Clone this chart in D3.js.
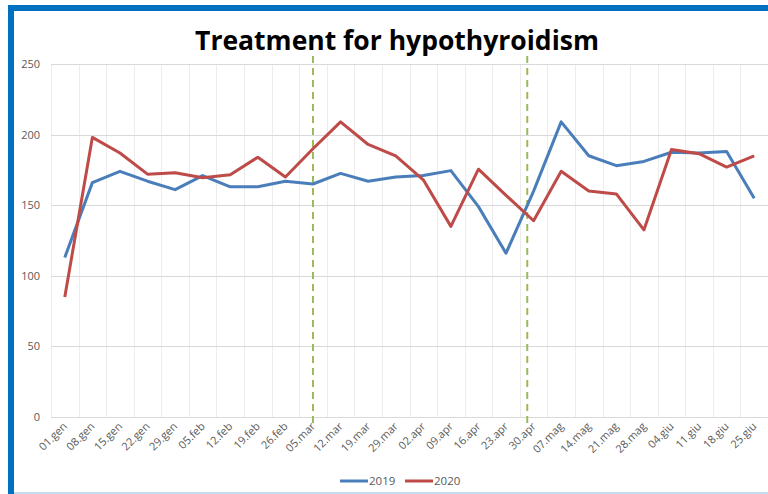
<!DOCTYPE html>
<meta charset='utf-8'>
<style>
body { margin: 0; background: #fff; }
text { font-family: 'Open Sans', 'Liberation Sans', sans-serif; }
.tick text { fill: #595959; font-size: 11px; }
.grid-y line { stroke: #d9d9d9; shape-rendering: crispEdges; }
.grid-x line { stroke: #ececec; shape-rendering: crispEdges; }
</style>
<svg width='768' height='494'></svg>
<script src='https://cdnjs.cloudflare.com/ajax/libs/d3/7.8.5/d3.min.js'></script>
<script>

// weeks on the x axis
var weeks = ['01.gen','08.gen','15.gen','22.gen','29.gen','05.feb','12.feb','19.feb','26.feb',
    '05.mar','12.mar','19.mar','29.mar','02.apr','09.apr','16.apr','23.apr','30.apr',
    '07.mag','14.mag','21.mag','28.mag','04.giu','11.giu','18.giu','25.giu'];

var values2019 = [113, 166, 174, 167, 161, 171, 163, 163, 167, 165, 172.5, 167, 170,
    171, 174.5, 149, 116, 160, 209, 185, 178, 181, 187.5, 187, 188, 155];

var values2020 = [85, 198, 187, 172, 173, 169.5, 171.5, 184, 170, 190, 209, 193, 185,
    168, 135, 175.5, 157, 139, 174, 160, 158, 132.5, 189.5, 186.5, 177, 185];

var yTicks = [0, 50, 100, 150, 200, 250];

// dashed markers: week and where inside its band the line sits
var markerWeeks = ['05.mar', '30.apr'];
var markerOffsets = [0.5, 0.27];

var seriesNames = ['2019', '2020'];
var seriesColors = ['#4a7ebb', '#be4b48'];

var svg = d3.select('svg'),
    plotLeft = 51, plotRight = 768, plotTop = 64, plotBottom = 417;

// frame (right and bottom sides run past the picture)
svg.append('rect')
    .attr('x', 11).attr('y', 8)
    .attr('width', 800).attr('height', 520)
    .attr('fill', 'none')
    .attr('stroke', '#0070c0')
    .attr('stroke-width', 6);
svg.append('line')
    .attr('x1', 14).attr('x2', 768)
    .attr('y1', 493).attr('y2', 493)
    .attr('stroke', '#c5dcef')
    .attr('stroke-width', 2);

var x = d3.scaleBand().domain(weeks).range([plotLeft, plotRight]).paddingInner(0).paddingOuter(0);
var y = d3.scaleLinear().domain([0, 250]).range([plotBottom, plotTop]);
var cx = function(d) { return x(d) + x.bandwidth() / 2; };

// vertical grid at band edges
svg.append('g')
    .attr('class', 'grid-x')
    .selectAll('line')
    .data(weeks.concat(['end']))
    .join('line')
    .attr('x1', function(d, i) { return Math.round(plotLeft + i * x.step()) + 0.5; })
    .attr('x2', function(d, i) { return Math.round(plotLeft + i * x.step()) + 0.5; })
    .attr('y1', plotTop).attr('y2', plotBottom);

// horizontal grid
svg.append('g')
    .attr('class', 'grid-y')
    .selectAll('line')
    .data(yTicks)
    .join('line')
    .attr('x1', plotLeft).attr('x2', plotRight)
    .attr('y1', function(d) { return Math.round(y(d)) + 0.5; })
    .attr('y2', function(d) { return Math.round(y(d)) + 0.5; });

// y axis labels
var yAxis = svg.append('g')
    .attr('transform', 'translate(' + plotLeft + ',0)')
    .call(d3.axisLeft(y).tickValues(yTicks).tickSize(0).tickPadding(11));
yAxis.select('.domain').remove();

// x axis
var xAxis = svg.append('g')
    .attr('transform', 'translate(0,' + plotBottom + ')')
    .call(d3.axisBottom(x).tickSize(0).tickPadding(0));
xAxis.select('.domain').remove();
xAxis.selectAll('text')
    .attr('text-anchor', 'end')
    .attr('y', 0).attr('dy', 0)
    .attr('transform', 'translate(3,10) rotate(-45)');

// dashed markers
svg.append('g')
    .selectAll('line')
    .data(markerWeeks)
    .join('line')
    .attr('x1', function(d, i) { return x(d) + x.bandwidth() * markerOffsets[i]; })
    .attr('x2', function(d, i) { return x(d) + x.bandwidth() * markerOffsets[i]; })
    .attr('y1', 56).attr('y2', 428)
    .attr('stroke', '#9bbb59')
    .attr('stroke-width', 2)
    .attr('stroke-dasharray', '7,5');

// lines
var line = d3.line()
    .x(function(d, i) { return cx(weeks[i]); })
    .y(function(d) { return y(d); });

[values2019, values2020].forEach(function(vals, k) {
    svg.append('path')
        .datum(vals)
        .attr('fill', 'none')
        .attr('stroke', seriesColors[k])
        .attr('stroke-width', 3)
        .attr('stroke-linejoin', 'round')
        .attr('d', line);
});

// title
svg.append('text')
    .attr('x', 397).attr('y', 50)
    .attr('text-anchor', 'middle')
    .style('font-size', '26.5px')
    .style('font-weight', 'bold')
    .attr('fill', '#000')
    .text('Treatment for hypothyroidism');

// legend
var legend = svg.append('g')
    .selectAll('g')
    .data(seriesNames)
    .join('g')
    .attr('transform', function(d, i) { return 'translate(' + (340 + i * 65) + ',481)'; });
legend.append('line')
    .attr('x1', 0).attr('x2', 28)
    .attr('stroke', function(d, i) { return seriesColors[i]; })
    .attr('stroke-width', 3);
legend.append('text')
    .attr('x', 29).attr('dy', '0.35em')
    .attr('fill', '#595959')
    .style('font-size', '11.5px')
    .text(function(d) { return d; });
</script>
